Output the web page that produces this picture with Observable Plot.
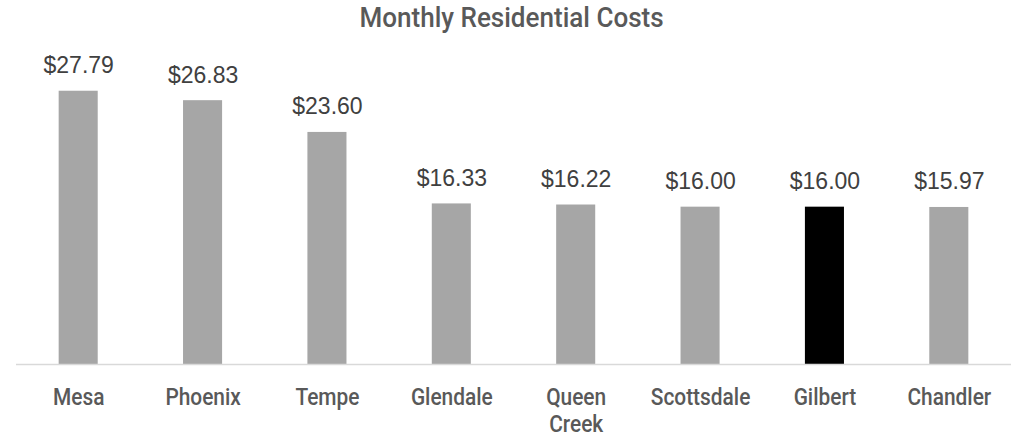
<!DOCTYPE html>
<html>
<head>
<meta charset="utf-8">
<script src="https://cdn.jsdelivr.net/npm/d3@7"></script>
<script src="https://cdn.jsdelivr.net/npm/@observablehq/plot@0.6"></script>
<style>
  html, body { margin: 0; padding: 0; background: #fff; }
  #wrap { position: relative; width: 1023px; height: 441px; }
  #title { position: absolute; left: 0; top: 0; width: 1023px; text-align: center;
    font-family: Roboto, sans-serif; font-weight: 500;
    font-size: 28px; color: #595959; line-height: 35px; }
  #title span { display: inline-block; transform: scaleX(0.93); transform-origin: center; }
</style>
</head>
<body>
<div id="wrap"><div id="title"><span>Monthly Residential Costs</span></div><div id="chart"></div></div>
<script>
const cities = ["Mesa", "Phoenix", "Tempe", "Glendale", "Queen Creek", "Scottsdale", "Gilbert", "Chandler"];
const costs = [27.79, 26.83, 23.60, 16.33, 16.22, 16.00, 16.00, 15.97];
const highlight = "Gilbert";

const data = cities.map((c, i) => ({city: c, cost: costs[i]}));
const wrapLabel = c => c === "Queen Creek" ? "Queen\nCreek" : c;

const chart = Plot.plot({
  width: 1023,
  height: 441,
  marginTop: 69,
  marginBottom: 77,
  marginLeft: 16,
  marginRight: 12,
  x: {domain: cities, paddingInner: 0.686, paddingOuter: 0.343, round: false, axis: null},
  y: {domain: [0, 30], axis: null},
  marks: [
    Plot.barY(data, {x: "city", y: "cost", fill: d => d.city === highlight ? "#000000" : "#a6a6a6"}),
    Plot.ruleY([0], {stroke: "#d9d9d9", strokeWidth: 1.5}),
    Plot.text(data, {x: "city", y: "cost", text: d => "$" + d.cost.toFixed(2), lineAnchor: "bottom", dy: -18,
      fontSize: 23, fill: "#404040", fontFamily: "Liberation Sans, Arial, sans-serif"}),
    Plot.text(data, {x: "city", text: d => wrapLabel(d.city), frameAnchor: "bottom", lineAnchor: "top", dy: 22,
      fontSize: 24, lineHeight: 1.1, fill: "#595959", fontWeight: 500,
      fontFamily: "Roboto, sans-serif", className: "catlabel"})
  ]
});
document.getElementById("chart").appendChild(chart);
// condense the category labels horizontally (narrow typeface look)
chart.querySelectorAll("g.catlabel text").forEach(t => {
  const tr = t.getAttribute("transform") || "";
  t.setAttribute("transform", tr + " scale(0.87,1)");
});
</script>
</body>
</html>
